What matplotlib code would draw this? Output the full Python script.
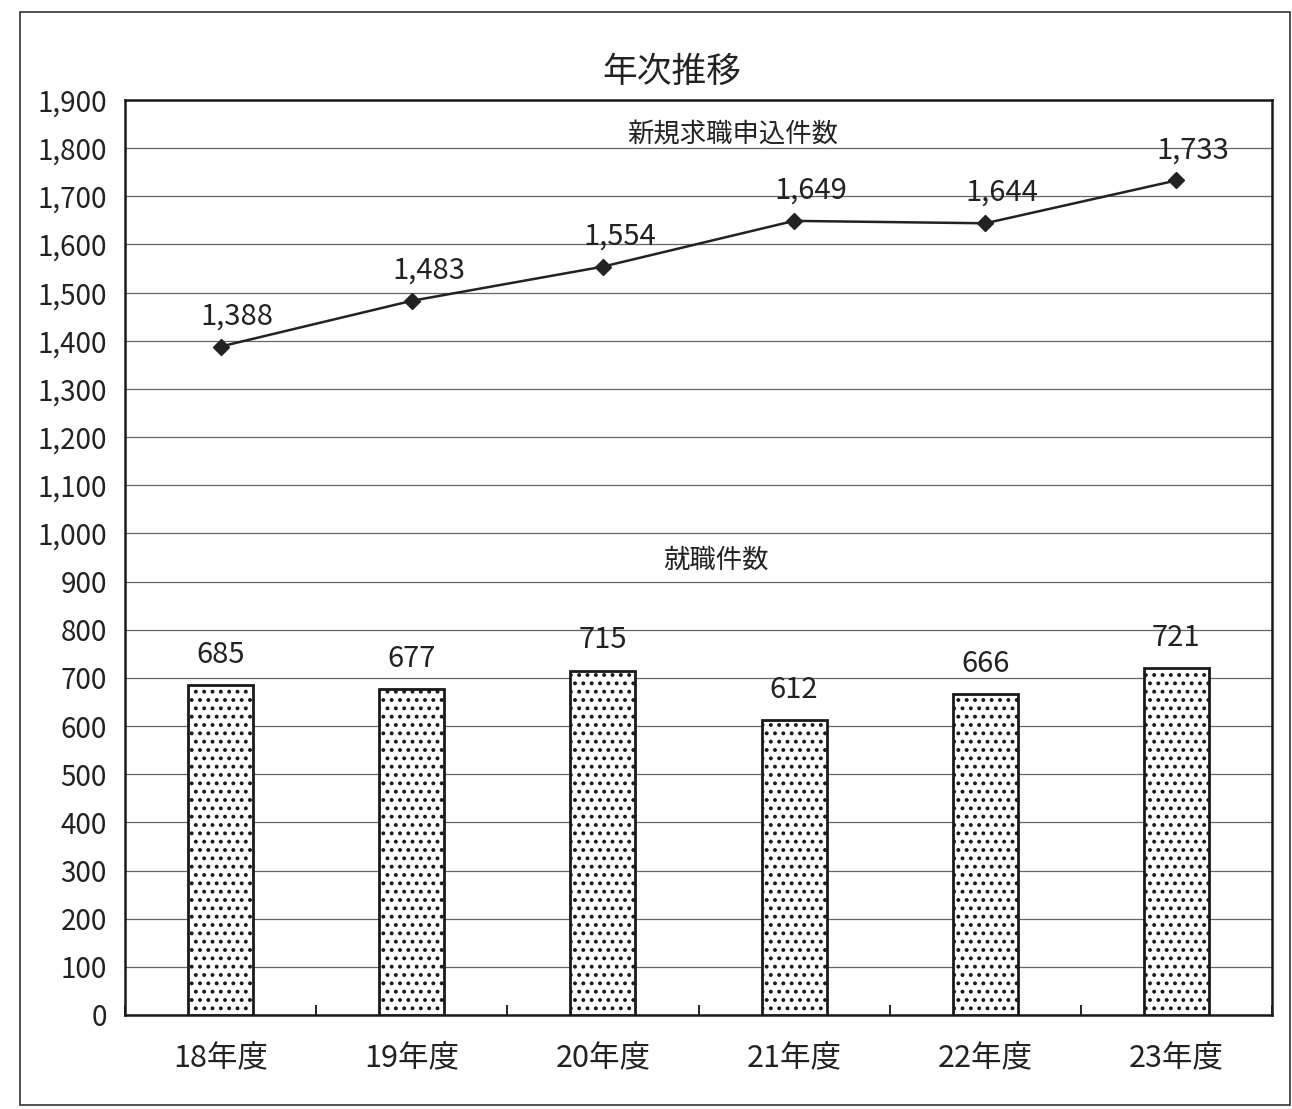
import matplotlib
matplotlib.use("Agg")
import matplotlib.pyplot as plt
from matplotlib.patches import Rectangle
import numpy as np

plt.rcParams['font.family'] = ['Noto Sans CJK JP', 'DejaVu Sans']
plt.rcParams['hatch.linewidth'] = 1.6

categories = ['18年度', '19年度', '20年度', '21年度', '22年度', '23年度']
applications = [1388, 1483, 1554, 1649, 1644, 1733]
placements = [685, 677, 715, 612, 666, 721]
yticks = list(range(0, 2000, 100))

fig = plt.figure(figsize=(12.92, 11.09), dpi=100)
ax = fig.add_axes([125/1292, 1-1015/1109, 1147/1292, 915/1109])

x = np.arange(len(categories))
ax.bar(x, placements, width=0.34, facecolor='white', edgecolor='#1a1a1a',
       linewidth=2.0, hatch='..', zorder=3)
for xi, v in zip(x, placements):
    ax.annotate(f'{v:,}', (xi, v), xytext=(0, 11), textcoords='offset points',
                ha='center', va='bottom', fontsize=21, color='#222222')

ax.plot(x, applications, color='#222222', linewidth=1.8, marker='D',
        markersize=8, zorder=4)
for xi, v in zip(x, applications):
    ax.annotate(f'{v:,}', (xi, v), xytext=(12, 11), textcoords='offset points',
                ha='center', va='bottom', fontsize=21, color='#222222')

ax.text(2.68, 1830, '新規求職申込件数', ha='center', va='center', fontsize=19, color='#222222')
ax.text(2.59, 945, '就職件数', ha='center', va='center', fontsize=19, color='#222222')

ax.set_xlim(-0.5, len(categories) - 0.5)
ax.set_ylim(0, 1900)
ax.set_yticks(yticks)
ax.set_yticklabels([f'{t:,}' for t in yticks], fontsize=20, color='#222222')
ax.set_xticks(x)
ax.set_xticklabels(categories, fontsize=22, color='#222222')
ax.set_xticks(np.arange(-0.5, len(categories)), minor=True)
ax.tick_params(axis='x', which='major', length=0, pad=20)
ax.tick_params(axis='x', which='minor', length=7, direction='in', width=1.2)
ax.tick_params(axis='y', length=0, pad=13)
ax.yaxis.grid(True, color='#666666', linewidth=0.9, zorder=0)
ax.set_axisbelow(True)
for s in ax.spines.values():
    s.set_linewidth(1.8)
    s.set_color('#1a1a1a')

fig.text(672/1292, 1-72/1109, '年次推移', ha='center', va='center', fontsize=25, color='#222222')

fig.patches.append(Rectangle((20/1292, 4/1109), 1270/1292, 1093/1109,
                             transform=fig.transFigure, fill=False,
                             edgecolor='#333333', linewidth=1.2))

fig.savefig('out.png', dpi=100, facecolor='white')
